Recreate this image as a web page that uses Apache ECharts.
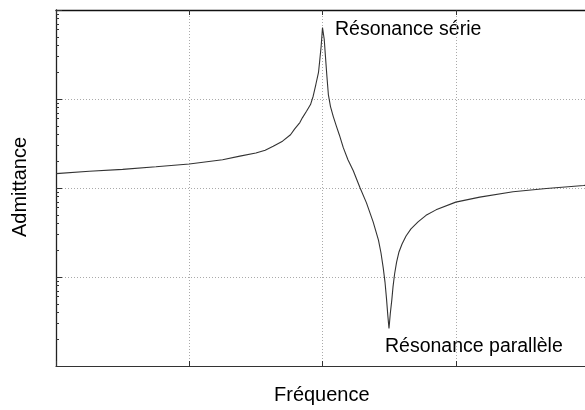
<!DOCTYPE html>
<html>
<head>
<meta charset="utf-8">
<script src="https://cdn.jsdelivr.net/npm/echarts@6/dist/echarts.min.js"></script>
<style>
html,body{margin:0;padding:0;background:#fff;}
#chart{width:585px;height:410px;}
</style>
</head>
<body>
<div id="chart"></div>
<script>
// Frequency (arbitrary units, axis 0..4)
var freq = [0, 0.25, 0.5, 0.75, 1.0, 1.25, 1.38, 1.5, 1.57, 1.63, 1.70, 1.76, 1.79, 1.83, 1.85, 1.88, 1.91, 1.93, 1.95, 1.97, 1.98, 1.99, 2.0,
            2.013, 2.021, 2.032, 2.044, 2.06, 2.081, 2.104, 2.126, 2.156, 2.191, 2.231, 2.28, 2.33, 2.38, 2.42, 2.439, 2.456, 2.469, 2.48, 2.49, 2.499,
            2.509, 2.52, 2.529, 2.541, 2.556, 2.574, 2.597, 2.627, 2.664, 2.717, 2.777, 2.852, 3.0, 3.18, 3.43, 3.68, 3.96, 4.0];
// Admittance (arbitrary units, log axis 1..10000)
var admittance = [145, 154, 162, 173, 186, 208, 228, 247, 266, 294, 336, 397, 459, 543, 618, 728, 866, 1074, 1455, 1986, 2782, 3930, 6338,
                  4677, 3170, 1886, 1122, 822, 634, 496, 397, 284, 208, 156, 102, 68, 41.6, 26, 18.6, 12.6, 8.77, 5.79, 3.73, 2.64,
                  3.92, 5.5, 7.7, 10.8, 14.7, 19.1, 23.5, 28.9, 34.7, 41.6, 49.3, 56.8, 69.4, 79, 90.6, 98.7, 106.7, 108];
// Tick values on the log axis
var majorTickValues = [1, 10, 100, 1000, 10000];
var minorTickValues = [2,3,4,5,6,7,8,9,20,30,40,50,60,70,80,90,200,300,400,500,600,700,800,900,2000,3000,4000,5000,6000,7000,8000,9000];
var labelSerie = 'Résonance série';
var labelParallele = 'Résonance parallèle';
var xName = 'Fréquence';
var yName = 'Admittance';

var FONT = '"Liberation Sans", Helvetica, Arial, sans-serif';
var chart = echarts.init(document.getElementById('chart'), null, {renderer: 'canvas'});
var data = freq.map(function (f, i) { return [f, admittance[i]]; });

chart.setOption({
  animation: false,
  backgroundColor: '#fff',
  grid: {left: 56, top: 10, width: 533, height: 356, containLabel: false, outerBoundsMode: 'none'},
  xAxis: [{
    type: 'value', min: 0, max: 4, interval: 1, position: 'bottom',
    axisLine: {show: true, lineStyle: {color: '#333', width: 1.2}},
    axisTick: {show: true, inside: true, length: 5, lineStyle: {color: '#333'}},
    axisLabel: {show: false},
    splitLine: {show: true, lineStyle: {color: '#aaa', type: [1, 2], width: 1}}
  }, {
    type: 'value', min: 0, max: 4, interval: 1, position: 'top',
    axisLine: {show: true, lineStyle: {color: '#111', width: 1.3}},
    axisTick: {show: true, inside: true, length: 5, lineStyle: {color: '#333'}},
    axisLabel: {show: false},
    splitLine: {show: false}
  }],
  yAxis: [{
    type: 'log', logBase: 10, min: 1, max: 10000, position: 'left',
    axisLine: {show: true, lineStyle: {color: '#222', width: 1.3}},
    axisTick: {show: true, inside: true, length: 6, customValues: majorTickValues, lineStyle: {color: '#333'}},
    axisLabel: {show: false},
    splitLine: {show: true, lineStyle: {color: '#aaa', type: [1, 2], width: 1}}
  }, {
    type: 'log', logBase: 10, min: 1, max: 10000, position: 'left',
    axisLine: {show: false},
    axisTick: {show: true, inside: true, length: 3, customValues: minorTickValues, lineStyle: {color: '#333'}},
    axisLabel: {show: false},
    splitLine: {show: false}
  }],
  series: [{
    type: 'line', xAxisIndex: 0, yAxisIndex: 0,
    data: data, showSymbol: false, symbol: 'none', smooth: false,
    lineStyle: {color: '#333', width: 1.1}
  }],
  graphic: [
    {type: 'text', left: 335, top: 20, style: {text: labelSerie, font: '19.5px ' + FONT, fill: '#000'}},
    {type: 'text', left: 385, top: 337, style: {text: labelParallele, font: '19.5px ' + FONT, fill: '#000'}},
    {type: 'text', left: 274, top: 385, style: {text: xName, font: '20px ' + FONT, fill: '#000'}},
    {type: 'text', left: 10, top: 137, rotation: Math.PI / 2, style: {text: yName, font: '20px ' + FONT, fill: '#000'}}
  ]
});
</script>
</body>
</html>
